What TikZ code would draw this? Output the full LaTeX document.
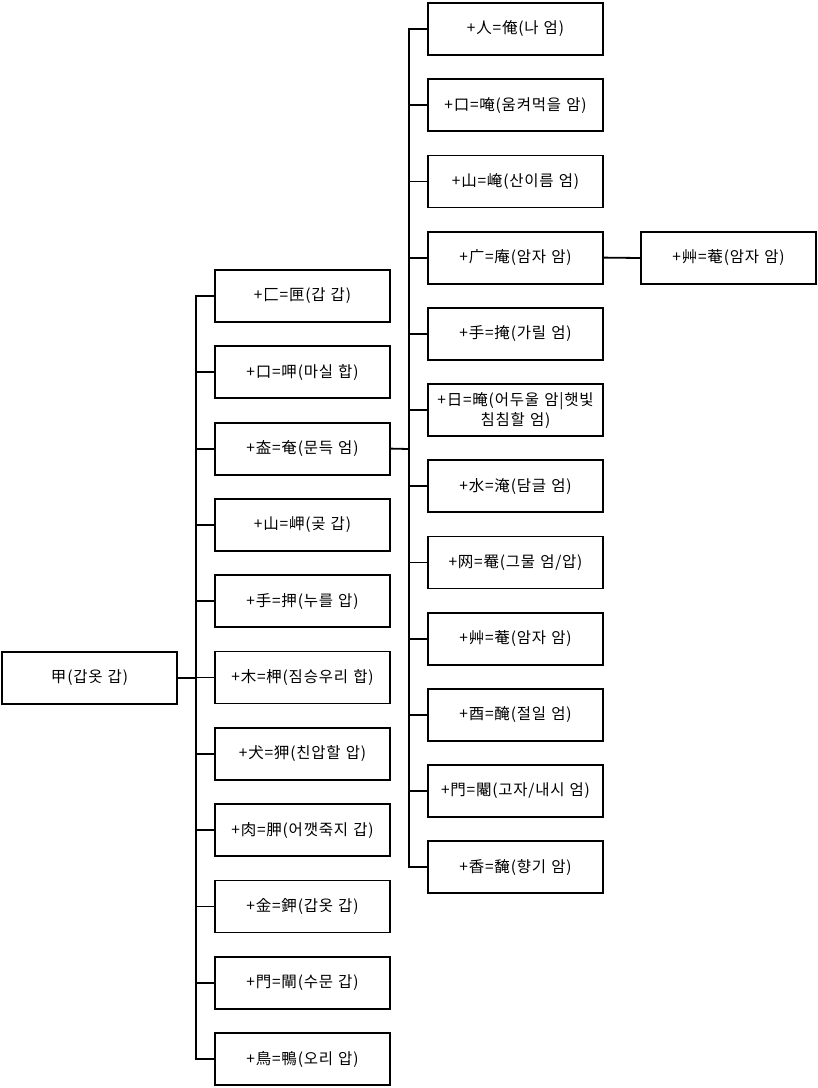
\documentclass[tikz,border=0pt]{standalone}
\usepackage{fontspec}
\setmainfont[LetterSpace=5]{Noto Sans CJK KR}
\begin{document}
\begin{tikzpicture}[x=1pt,y=-1pt,
  box/.style={draw=black,line width=1.8pt,minimum width=175pt,minimum height=52pt,inner sep=2pt,align=center,font=\fontsize{15.5}{20}\selectfont,text width=170pt},
  conn/.style={draw=black,line width=1.8pt}]
\useasboundingbox (0,0) rectangle (818,1088);
\node[box] (root) at (89.5,678) {甲(갑옷 갑)};
\foreach \i/\t in {1/{+匚=匣(갑 갑)},2/{+口=呷(마실 합)},3/{+盇=奄(문득 엄)},4/{+山=岬(곶 갑)},5/{+手=押(누를 압)},6/{+木=柙(짐승우리 합)},7/{+犬=狎(친압할 압)},8/{+肉=胛(어깻죽지 갑)},9/{+金=鉀(갑옷 갑)},10/{+門=閘(수문 갑)},11/{+鳥=鴨(오리 압)}}{
  \node[box] (a\i) at (302.5,{296+76.3*(\i-1)}) {\t};
}
\foreach \i/\t in {1/{+人=俺(나 엄)},2/{+口=唵(움켜먹을 암)},3/{+山=崦(산이름 엄)},4/{+广=庵(암자 암)},5/{+手=掩(가릴 엄)},6/{+日=晻(어두울 암|햇빛\\침침할 엄)},7/{+水=淹(담글 엄)},8/{+网=罨(그물 엄/압)},9/{+艸=菴(암자 암)},10/{+酉=醃(절일 엄)},11/{+門=閹(고자/내시 엄)},12/{+香=馣(향기 암)}}{
  \node[box] (b\i) at (515.5,{29+76.2*(\i-1)}) {\t};
}
\node[box] (c1) at (728.5,258) {+艸=菴(암자 암)};
\coordinate (busA) at (196,678);
\foreach \i in {1,...,11}{
  \draw[conn] (busA) |- (a\i.west);
}
\draw[conn] (root.east) -- (busA);
\coordinate (busB) at (409,449);
\foreach \i in {1,...,12}{
  \draw[conn] (busB) |- (b\i.west);
}
\draw[conn] (a3.east) -- (busB);
\draw[conn] (b4.east) -- (c1.west);
\end{tikzpicture}
\end{document}
